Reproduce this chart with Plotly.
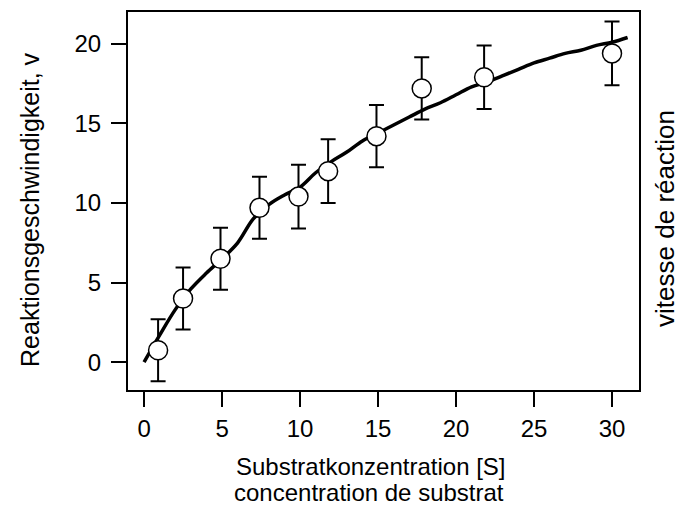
import plotly.graph_objects as go

# Measured data points
conc = [0.9, 2.5, 4.9, 7.4, 9.9, 11.8, 14.9, 17.8, 21.8, 30.0]
rate = [0.75, 4.0, 6.5, 9.7, 10.4, 12.0, 14.2, 17.2, 17.9, 19.4]
err = [1.95, 1.95, 1.95, 1.95, 2.0, 2.0, 1.95, 1.95, 2.0, 2.0]

# Fitted curve
curve_x = [0, 1, 2, 3, 4, 5, 6, 7, 8, 9, 10, 11, 12, 13, 14, 15, 16, 17, 18, 19,
           20, 21, 22, 23, 24, 25, 26, 27, 28, 29, 30, 31]
curve_y = [0.0, 1.7, 3.3, 4.6, 5.6, 6.5, 7.5, 9.0, 9.9, 10.5, 11.0, 11.9, 12.6, 13.2,
           13.9, 14.4, 14.9, 15.4, 15.9, 16.3, 16.8, 17.3, 17.6, 18.0, 18.4, 18.8,
           19.1, 19.4, 19.6, 19.9, 20.1, 20.4]

x_ticks = [0, 5, 10, 15, 20, 25, 30]
y_ticks = [0, 5, 10, 15, 20]

FONT = "Liberation Sans, Arial, sans-serif"

fig = go.Figure()
fig.add_trace(go.Scatter(x=curve_x, y=curve_y, mode="lines",
                         line=dict(color="black", width=3.5, shape="spline"),
                         showlegend=False, hoverinfo="skip"))
fig.add_trace(go.Scatter(x=conc, y=rate, mode="markers",
                         marker=dict(symbol="circle", size=19, color="white",
                                     line=dict(color="black", width=1.5)),
                         error_y=dict(type="data", array=err, visible=True,
                                      color="black", thickness=2, width=7.5),
                         showlegend=False))

axis_common = dict(showgrid=False, zeroline=False, showline=True, linecolor="black",
                   linewidth=2, mirror=True, ticks="outside", ticklen=15, tickwidth=2,
                   tickcolor="black", tickfont=dict(family=FONT, size=24, color="black"))

fig.update_xaxes(range=[-1.03, 31.73], tickvals=x_ticks, ticklabelstandoff=1, **axis_common)
fig.update_yaxes(range=[-1.75, 22], tickvals=y_ticks, ticklabelstandoff=5, **axis_common)

fig.update_layout(
    width=689, height=510,
    margin=dict(l=128, r=50, t=10, b=120),
    plot_bgcolor="white", paper_bgcolor="white",
    font=dict(family=FONT, color="black"),
    annotations=[
        dict(text="Substratkonzentration [S]", xref="paper", yref="paper",
             x=(370 - 128) / 511, y=-(467 - 390) / 380, xanchor="center", yanchor="middle",
             showarrow=False, font=dict(family=FONT, size=24, color="black")),
        dict(text="concentration de substrat", xref="paper", yref="paper",
             x=(369 - 128) / 511, y=-(493 - 390) / 380, xanchor="center", yanchor="middle",
             showarrow=False, font=dict(family=FONT, size=24, color="black")),
        dict(text="Reaktionsgeschwindigkeit, v", xref="paper", yref="paper",
             x=-(128 - 30) / 511, y=(390 - 209) / 380, xanchor="center", yanchor="middle",
             textangle=-90, showarrow=False, font=dict(family=FONT, size=25, color="black")),
        dict(text="vitesse de réaction", xref="paper", yref="paper",
             x=(665 - 128) / 511, y=(390 - 218) / 380, xanchor="center", yanchor="middle",
             textangle=-90, showarrow=False, font=dict(family=FONT, size=26, color="black")),
    ],
)

fig.write_html("out.html", config={"displayModeBar": False},
               post_script="document.body.style.margin='0';document.body.style.overflow='hidden';")
